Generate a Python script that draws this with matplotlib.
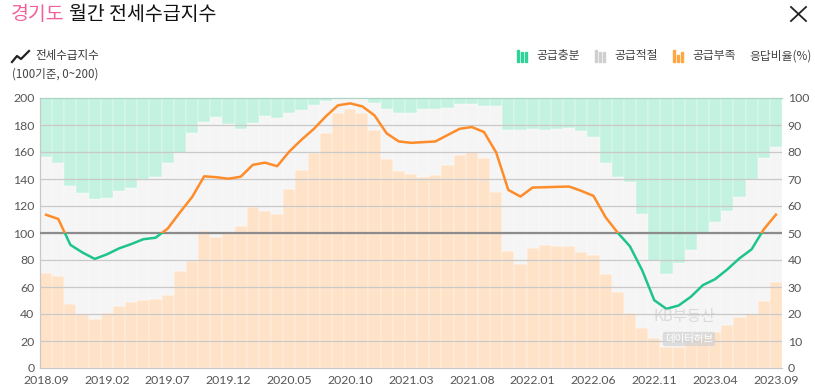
import matplotlib.pyplot as plt
from matplotlib.patches import Rectangle
from matplotlib.lines import Line2D

KR = ['Noto Sans CJK KR', 'DejaVu Sans']
NUM = ['Lato', 'DejaVu Sans']

# monthly, 2018.09 .. 2023.09
months = []
y, m = 2018, 9
for _ in range(61):
    months.append(f"{y}.{m:02d}")
    m += 1
    if m > 12:
        y, m = y + 1, 1

# 전세수급지수 (left axis, 0~200)
index_vals = [113.5, 110.4, 91.2, 85.5, 80.8, 84.2, 88.6, 91.8, 95.4, 96.5,
              103.3, 115.2, 126.6, 142.0, 141.3, 140.2, 141.7, 150.5, 152.1, 149.5,
              160.4, 169.1, 177.0, 186.4, 194.6, 196.0, 193.8, 187.1, 173.8, 167.8,
              166.8, 167.3, 167.8, 172.5, 177.2, 178.5, 174.8, 159.7, 131.9, 127.0,
              133.7, 133.9, 134.2, 134.4, 131.2, 127.5, 111.6, 100.2, 90.1, 72.5,
              50.2, 43.8, 46.3, 52.7, 61.4, 65.8, 73.0, 81.2, 87.9, 102.7,
              113.6]

# 공급부족 (%)
shortage = [35.1, 34.0, 23.6, 19.9, 18.1, 20.5, 22.8, 24.5, 25.1, 25.5,
            27.0, 35.9, 39.7, 50.6, 48.5, 49.9, 52.6, 59.7, 58.2, 57.1,
            66.2, 73.4, 79.6, 87.1, 94.6, 96.0, 94.4, 88.2, 77.5, 73.0,
            72.0, 70.8, 71.5, 75.2, 78.9, 80.1, 77.8, 65.2, 43.3, 38.6,
            44.4, 45.4, 45.2, 45.2, 42.9, 41.8, 34.9, 28.2, 20.4, 14.9,
            11.0, 7.9, 7.7, 9.5, 11.5, 13.5, 16.0, 19.0, 20.0, 24.8,
            31.8]

# 공급부족 + 공급적절 (%), the rest up to 100 is 공급충분
upper = [78.0, 76.1, 67.5, 64.9, 62.6, 63.0, 65.7, 66.6, 69.9, 70.8,
         76.1, 79.8, 87.1, 91.2, 93.1, 90.2, 88.6, 90.8, 93.4, 92.5,
         94.3, 95.7, 97.4, 98.9, 99.5, 99.8, 99.6, 98.3, 95.8, 94.6,
         94.6, 96.0, 95.9, 96.2, 97.6, 97.8, 97.1, 97.1, 88.1, 88.1,
         88.5, 88.2, 88.7, 88.9, 87.7, 85.6, 76.0, 70.8, 68.9, 57.2,
         39.6, 34.7, 38.9, 43.8, 49.9, 54.0, 58.3, 63.4, 69.6, 77.8,
         81.7]

adequate = [u - s for u, s in zip(upper, shortage)]
enough = [100 - u for u in upper]

C_SHORT = '#ffe3c9'
C_ADEQ = '#f4f5f4'
C_ENOUGH = '#c4f2e1'
C_LINE_UP = '#ff8c2a'
C_LINE_DN = '#1fc48c'

fig = plt.figure(figsize=(8.15, 3.86), dpi=100)
W, H = 815, 386
ax = fig.add_axes([40 / W, 18 / H, 742 / W, 270 / H])
ax2 = ax.twinx()

x = list(range(len(months)))
ax.bar(x, shortage, width=1.0, color=C_SHORT, edgecolor='white', linewidth=0.25, zorder=1)
ax.bar(x, adequate, bottom=shortage, width=1.0, color=C_ADEQ, edgecolor='white', linewidth=0.25, zorder=1)
ax.bar(x, enough, bottom=upper, width=1.0, color=C_ENOUGH, edgecolor='white', linewidth=0.25, zorder=1)

for v in range(10, 100, 10):
    ax.axhline(v, color='#c9c9c9', lw=0.9, zorder=2)

ax.set_xlim(-0.5, len(months) - 0.5)
ax.set_ylim(0, 100)
ax2.set_ylim(0, 200)

ax2.axhline(100, color='#8c8c8c', lw=1.6, zorder=3)

# one line, orange above 100 and green below
up, = ax2.plot(x, index_vals, color=C_LINE_UP, lw=1.8, zorder=4, solid_joinstyle='round')
dn, = ax2.plot(x, index_vals, color=C_LINE_DN, lw=1.8, zorder=4, solid_joinstyle='round')
up.set_clip_path(Rectangle((-5, 100), 80, 200, transform=ax2.transData))
dn.set_clip_path(Rectangle((-5, -50), 80, 150, transform=ax2.transData))

# axes: left = index, right = %
ax.yaxis.tick_right()
ax2.yaxis.tick_left()
ax.set_yticks(range(0, 101, 10))
ax2.set_yticks(range(0, 201, 20))
ax.set_xticks(x[::5])
ax.set_xticklabels(months[::5])
for a in (ax, ax2):
    a.tick_params(length=0, labelsize=8.8, labelcolor='#555555', pad=4)
    for lab in a.get_xticklabels() + a.get_yticklabels():
        lab.set_family(NUM)
ax.tick_params(axis='x', pad=5)
for a in (ax, ax2):
    a.spines['right'].set_visible(False)
    a.spines['left'].set_color('#c8c8c8')
    a.spines['bottom'].set_color('#c8c8c8')
    a.spines['top'].set_color('#a9d3c5')

# header
fig.text(11 / W, 1 - 15 / H, '경기도', color='#f0609a', fontsize=14, va='center', family=KR)
fig.text(69 / W, 1 - 15 / H, '월간 전세수급지수', color='#111111', fontsize=14, va='center', family=KR)
fig.add_artist(Line2D([791 / W, 806 / W], [1 - 7 / H, 1 - 21 / H], color='#222222', lw=1.3))
fig.add_artist(Line2D([791 / W, 806 / W], [1 - 21 / H, 1 - 7 / H], color='#222222', lw=1.3))

# left legend
zz_x = [12, 17, 21, 29]
zz_y = [62, 56, 59, 51]
fig.add_artist(Line2D([v / W for v in zz_x], [1 - v / H for v in zz_y], color='#222222', lw=1.6))
fig.text(35 / W, 1 - 56 / H, '전세수급지수', color='#333333', fontsize=8.3, va='center', family=KR)
fig.text(12 / W, 1 - 74 / H, '(100기준, 0~200)', color='#444444', fontsize=8.3, va='center', family=KR)

# right legend
def bar_icon(x0, color, heights):
    for k, h in enumerate(heights):
        fig.add_artist(Rectangle(((x0 + k * 4) / W, (H - 62) / H), 2 / W, h / H,
                                 color=color, transform=fig.transFigure))

bar_icon(517, '#2fd39a', [12, 10, 10])
fig.text(536 / W, 1 - 56 / H, '공급충분', color='#444444', fontsize=8.5, va='center', family=KR)
bar_icon(595, '#cfcfcf', [12, 10, 10])
fig.text(614 / W, 1 - 56 / H, '공급적절', color='#444444', fontsize=8.5, va='center', family=KR)
bar_icon(673, '#ffa742', [12, 7, 10])
fig.text(692 / W, 1 - 56 / H, '공급부족', color='#444444', fontsize=8.5, va='center', family=KR)
fig.text(749 / W, 1 - 56 / H, '응답비율(%)', color='#444444', fontsize=8.5, va='center', family=KR)

# site watermark
fig.text(684 / W, 1 - 316 / H, 'KB부동산', color='#c8c8c8', alpha=0.6, fontsize=11,
         ha='center', va='center', family=KR, zorder=10)
fig.text(689 / W, 1 - 339 / H, '데이터허브', color='white', fontsize=7.5, ha='center', va='center',
         family=KR, zorder=11,
         bbox=dict(boxstyle='round,pad=0.2', fc='#d2d2d2', ec='none', alpha=0.7))

fig.savefig('out.png', dpi=100)
